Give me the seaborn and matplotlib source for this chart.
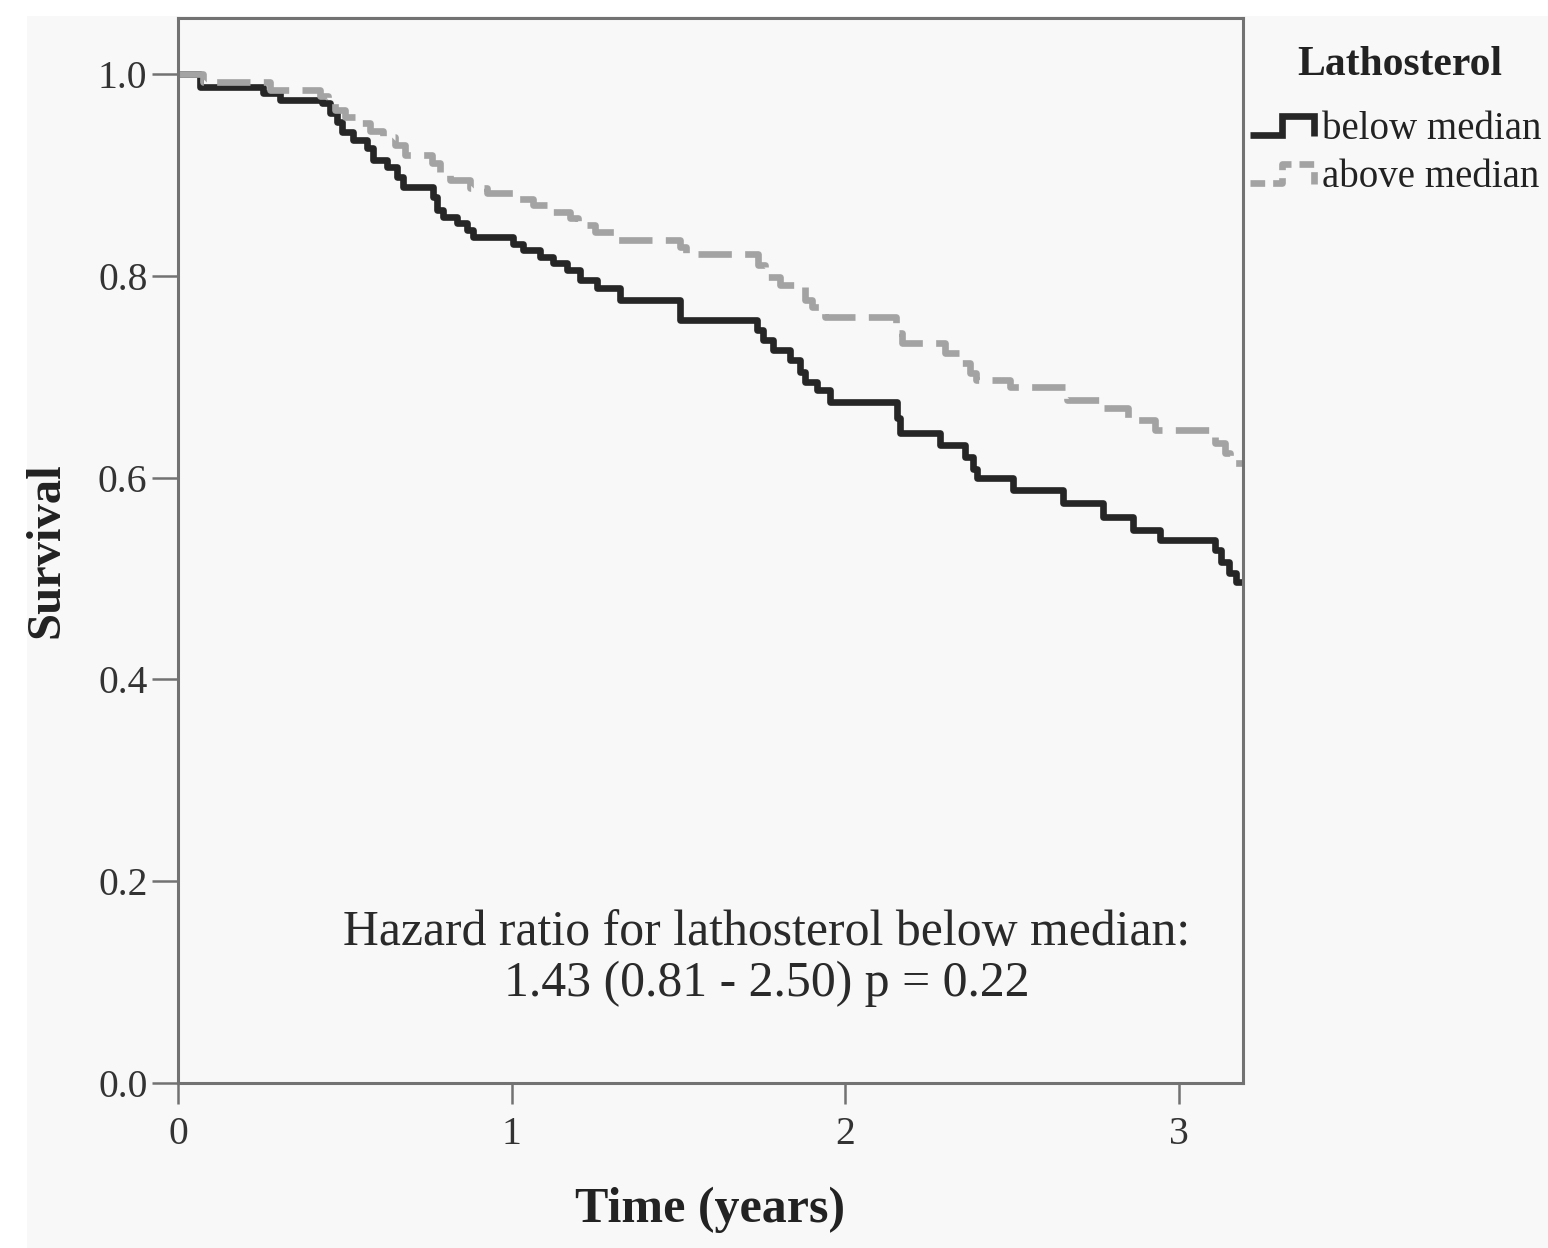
import numpy as np
import pandas as pd
import matplotlib
matplotlib.use("Agg")
import matplotlib.pyplot as plt
import seaborn as sns
from matplotlib.lines import Line2D
from matplotlib.legend_handler import HandlerBase
from matplotlib.patches import Rectangle

# Kaplan-Meier step data: event times (years) and survival after each event
below_time = [0.066, 0.255, 0.306, 0.432, 0.456, 0.477, 0.492, 0.525, 0.567, 0.585,
              0.627, 0.657, 0.675, 0.765, 0.777, 0.795, 0.837, 0.867, 0.885, 1.005,
              1.034, 1.085, 1.124, 1.166, 1.205, 1.256, 1.325, 1.505, 1.736, 1.754,
              1.784, 1.835, 1.865, 1.880, 1.916, 1.955, 2.156, 2.165, 2.285, 2.360,
              2.384, 2.396, 2.504, 2.654, 2.774, 2.864, 2.945, 3.109, 3.127, 3.151,
              3.172]
below_surv = [0.987, 0.981, 0.974, 0.971, 0.961, 0.952, 0.943, 0.935, 0.927, 0.915,
              0.908, 0.898, 0.888, 0.878, 0.865, 0.858, 0.852, 0.845, 0.838, 0.832,
              0.826, 0.819, 0.813, 0.806, 0.796, 0.788, 0.776, 0.756, 0.746, 0.736,
              0.726, 0.717, 0.705, 0.695, 0.687, 0.675, 0.659, 0.644, 0.632, 0.620,
              0.609, 0.600, 0.588, 0.575, 0.561, 0.548, 0.538, 0.528, 0.516, 0.505,
              0.497]

above_time = [0.075, 0.276, 0.426, 0.450, 0.471, 0.501, 0.537, 0.576, 0.615, 0.651,
              0.681, 0.762, 0.786, 0.816, 0.876, 0.927, 1.005, 1.064, 1.115, 1.175,
              1.199, 1.250, 1.310, 1.505, 1.523, 1.739, 1.760, 1.805, 1.880, 1.901,
              1.940, 2.153, 2.171, 2.300, 2.345, 2.375, 2.393, 2.495, 2.666, 2.762,
              2.849, 2.930, 3.109, 3.139, 3.154]
above_surv = [0.992, 0.984, 0.978, 0.971, 0.964, 0.957, 0.951, 0.944, 0.938, 0.930,
              0.920, 0.912, 0.903, 0.895, 0.887, 0.882, 0.876, 0.870, 0.863, 0.857,
              0.850, 0.843, 0.835, 0.829, 0.822, 0.811, 0.799, 0.791, 0.776, 0.769,
              0.759, 0.743, 0.733, 0.723, 0.714, 0.704, 0.697, 0.690, 0.677, 0.669,
              0.657, 0.647, 0.634, 0.624, 0.614]

follow_up_end = 3.19
group_labels = ["below median", "above median"]
legend_title = "Lathosterol"
x_ticks = [0, 1, 2, 3]
x_tick_labels = ["0", "1", "2", "3"]
y_ticks = [0.0, 0.2, 0.4, 0.6, 0.8, 1.0]
y_tick_labels = ["0.0", "0.2", "0.4", "0.6", "0.8", "1.0"]
hr_line1 = "Hazard ratio for lathosterol below median:"
hr_line2 = "1.43 (0.81 - 2.50) p = 0.22"

BLACK = "#262626"
GREY = "#a3a3a3"
PANEL = "#f8f8f8"
FRAME = "#727272"
LW = 4.8
DASH = (5, 2)

sns.set_theme(style="white")
plt.rcParams["font.family"] = ["Liberation Serif", "DejaVu Serif"]


def km_frame(times, surv, label):
    t = [0.0] + list(times) + [follow_up_end]
    s = [1.0] + list(surv) + [surv[-1]]
    return pd.DataFrame({"time": t, "survival": s, "group": label})


df = pd.concat([km_frame(below_time, below_surv, group_labels[0]),
                km_frame(above_time, above_surv, group_labels[1])],
               ignore_index=True)

W, H = 1548, 1248
fig = plt.figure(figsize=(W / 100, H / 100), dpi=100, facecolor="white")
fig.add_artist(Rectangle((27 / W, 0), 1, 1 - 16 / H, transform=fig.transFigure,
                         facecolor=PANEL, edgecolor="none", zorder=-5))

ax = fig.add_axes([178 / W, 1 - 1083 / H, (1243 - 178) / W, (1083 - 18) / H])
ax.set_facecolor(PANEL)

sns.lineplot(data=df, x="time", y="survival", hue="group", style="group",
             palette={group_labels[0]: BLACK, group_labels[1]: GREY},
             dashes={group_labels[0]: "", group_labels[1]: DASH},
             drawstyle="steps-post", linewidth=LW, estimator=None, sort=False,
             legend=False, ax=ax)

ax.set_xlim(0, (1243 - 178) / 333.5)
ax.set_ylim(0, (1083 - 18) / 1009)

for sp in ax.spines.values():
    sp.set_visible(True)
    sp.set_color(FRAME)
    sp.set_linewidth(2.2)

ax.set_xticks(x_ticks)
ax.set_xticklabels(x_tick_labels)
ax.set_yticks(y_ticks)
ax.set_yticklabels(y_tick_labels)
ax.tick_params(axis="y", left=True, length=19, width=1.8, color=FRAME, pad=3,
               labelsize=28.5, labelcolor="#333333", direction="out")
ax.tick_params(axis="x", bottom=True, length=15, width=1.8, color=FRAME, pad=9,
               labelsize=28.5, labelcolor="#333333", direction="out")

ax.set_xlabel("Time (years)", fontsize=36, fontweight="bold", color="#222222",
              labelpad=24)
ax.set_ylabel("Survival", fontsize=35, fontweight="bold", color="#222222",
              labelpad=21)

ax.text(1.766, 0.149, hr_line1, ha="center", va="center", fontsize=35.8,
        color="#2a2a2a")
ax.text(1.766, 0.098, hr_line2, ha="center", va="center", fontsize=35.8,
        color="#2a2a2a")


class StepHandler(HandlerBase):
    """Legend key drawn as a small survival step."""

    def create_artists(self, legend, orig_handle, xdescent, ydescent,
                       width, height, fontsize, trans):
        x0 = -xdescent
        yb = -ydescent + 0.15 * height
        yt = -ydescent + 0.85 * height
        xs = [x0, x0 + 0.5 * width, x0 + 0.5 * width, x0 + width, x0 + width]
        ys = [yb, yb, yt, yt, yb - 0.05 * height]
        line = Line2D(xs, ys, color=orig_handle.get_color(),
                      linewidth=orig_handle.get_linewidth(),
                      linestyle=orig_handle.get_linestyle(),
                      solid_joinstyle="miter", solid_capstyle="butt")
        if orig_handle.get_linestyle() not in ("-", "solid"):
            line.set_dashes((2.2, 1.2))
        line.set_transform(trans)
        return [line]


# legend title placed on its own, entries below it
fig.text(1400 / W, 1 - 65 / H, legend_title, ha="center", va="center",
         fontsize=30, fontweight="bold", color="#222222")

handles = [Line2D([], [], color=BLACK, linewidth=LW, linestyle="-"),
           Line2D([], [], color=GREY, linewidth=LW, linestyle="--")]
leg = ax.legend(handles, group_labels,
                handler_map={Line2D: StepHandler()},
                loc="upper left", bbox_to_anchor=(1250 / W, 1 - 111 / H),
                bbox_transform=fig.transFigure, frameon=False, fontsize=28,
                handlelength=1.65, handletextpad=0.2, labelspacing=0.28,
                borderpad=0, borderaxespad=0)
for t in leg.get_texts():
    t.set_color("#222222")

fig.savefig("out.png", dpi=100, facecolor=fig.get_facecolor())
